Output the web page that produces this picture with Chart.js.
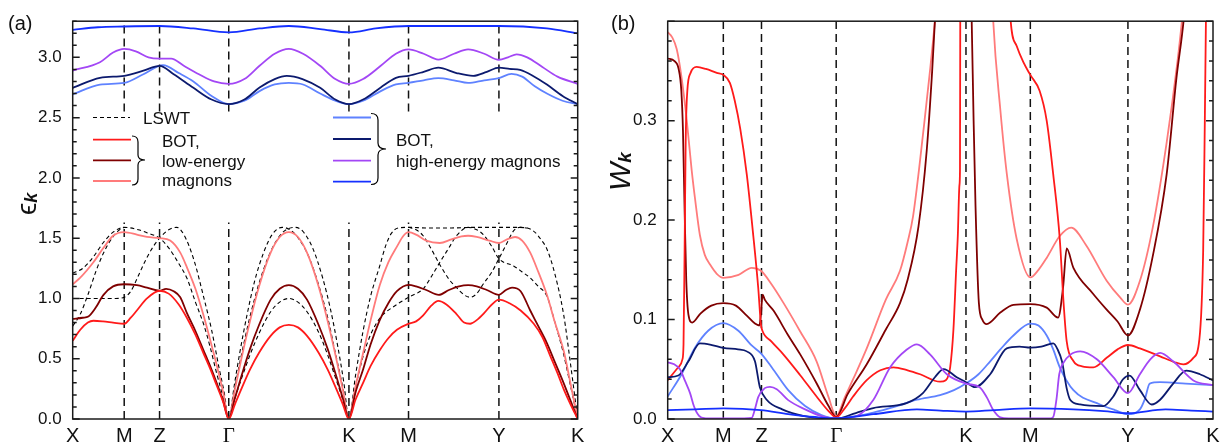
<!DOCTYPE html>
<html>
<head>
<meta charset="utf-8">
<script src="https://cdn.jsdelivr.net/npm/chart.js@4.4.0/dist/chart.umd.min.js"></script>
<style>
  body { margin: 0; background: #fff; }
  #wrap { position: relative; width: 1227px; height: 447px; background: #fff; }
  canvas { position: absolute; top: 0; }
  #overlay { position: absolute; left: 0; top: 0; pointer-events: none; }
</style>
</head>
<body>
<div id="wrap">
  <canvas id="chartA" width="600" height="447" style="left:0;width:600px;height:447px"></canvas>
  <canvas id="chartB" width="627" height="447" style="left:600px;width:627px;height:447px"></canvas>
  <svg id="overlay" width="1227" height="447" font-family="'Liberation Sans', Arial, sans-serif" fill="#111">
    <text x="8" y="29.5" font-size="20">(a)</text>
    <text x="611" y="29.5" font-size="20">(b)</text>

    <text transform="translate(36,215) rotate(-90)" font-size="28">ϵ<tspan font-size="18" font-weight="bold" font-style="italic" dy="1">k</tspan></text>
    <text transform="translate(630,191) rotate(-90)" font-size="30" font-style="italic">W<tspan font-size="19" font-weight="bold" font-style="italic" dy="1">k</tspan></text>

    <!-- legend, low-energy -->
    <line x1="93" y1="117.5" x2="130" y2="117.5" stroke="#000" stroke-width="1.2" stroke-dasharray="4 3"/>
    <text x="143" y="124" font-size="17">LSWT</text>
    <line x1="93" y1="139.7" x2="131" y2="139.7" stroke="#ff1a1a" stroke-width="1.8"/>
    <line x1="93" y1="160.3" x2="131" y2="160.3" stroke="#7f0000" stroke-width="1.8"/>
    <line x1="93" y1="181" x2="131" y2="181" stroke="#ff7b7b" stroke-width="1.8"/>
    <path d="M132,136 Q138,136 138,142 L138,155 Q138,160 145,160 Q138,160 138,165 L138,179 Q138,185 132,185" fill="none" stroke="#000" stroke-width="1.2"/>
    <text x="162" y="146.5" font-size="17">BOT,</text>
    <text x="162" y="166.5" font-size="17">low-energy</text>
    <text x="162" y="186" font-size="17">magnons</text>

    <!-- legend, high-energy -->
    <line x1="333" y1="117.5" x2="371" y2="117.5" stroke="#5f82ff" stroke-width="1.8"/>
    <line x1="333" y1="139" x2="371" y2="139" stroke="#0c1a6e" stroke-width="1.8"/>
    <line x1="333" y1="160.7" x2="371" y2="160.7" stroke="#a347f5" stroke-width="1.8"/>
    <line x1="333" y1="181.7" x2="371" y2="181.7" stroke="#1530ff" stroke-width="1.8"/>
    <path d="M371,113.5 Q378,113.5 378,120 L378,143 Q378,149 386,149 Q378,149 378,155 L378,178 Q378,184.5 371,184.5" fill="none" stroke="#000" stroke-width="1.2"/>
    <text x="396" y="145.7" font-size="17">BOT,</text>
    <text x="396" y="166.7" font-size="17">high-energy magnons</text>
  </svg>
</div>

<script>
// band structure (a) and weights (b) along X-M-Z-Γ-K-M-Y-K

const RED = '#ff1a1a';
const DARKRED = '#7f0000';
const PINK = '#ff7b7b';
const LIGHTBLUE = '#5f82ff';
const NAVY = '#0c1a6e';
const PURPLE = '#a347f5';
const BLUE = '#1530ff';

// ----------------------
// k-path and ticks
// ----------------------
const kPath = [0, 0.102, 0.172, 0.309, 0.547, 0.665, 0.844, 1.0];
const kLabels = ['X', 'M', 'Z', 'Γ', 'K', 'M', 'Y', 'K'];
const yTicksA = [0, 0.5, 1.0, 1.5, 2.0, 2.5, 3.0];
const yTicksB = [0, 0.1, 0.2, 0.3, 0.4];

// ----------------------
// (a) energies
// ----------------------
const lowRed = [[0,0.65],[0.015,0.74],[0.03,0.80],[0.041,0.815],[0.06,0.81],[0.08,0.80],[0.102,0.79],[0.115,0.84],[0.127,0.90],[0.147,1.00],[0.172,1.064],[0.19,1.04],[0.21,0.95],[0.226,0.84],[0.243,0.70],[0.259,0.545],[0.272,0.42],[0.285,0.28],[0.298,0.14],[0.309,0],
  [0.321,0.12],[0.333,0.24],[0.351,0.41],[0.369,0.55],[0.392,0.69],[0.41,0.76],[0.428,0.78],[0.446,0.76],[0.464,0.69],[0.487,0.55],[0.505,0.41],[0.523,0.24],[0.535,0.12],[0.547,0],
  [0.56,0.16],[0.575,0.30],[0.59,0.44],[0.608,0.57],[0.625,0.67],[0.642,0.74],[0.665,0.79],[0.68,0.81],[0.694,0.86],[0.71,0.94],[0.724,0.98],[0.74,0.95],[0.76,0.87],[0.775,0.80],[0.787,0.79],[0.80,0.82],[0.815,0.88],[0.83,0.95],[0.844,0.99],[0.865,0.96],[0.887,0.90],[0.913,0.79],[0.93,0.68],[0.946,0.52],[0.96,0.38],[0.972,0.25],[0.986,0.12],[1.0,0]];

const lowDark = [[0,0.83],[0.02,0.84],[0.031,0.85],[0.045,0.92],[0.061,1.03],[0.08,1.10],[0.102,1.118],[0.127,1.11],[0.147,1.09],[0.172,1.064],[0.185,1.08],[0.2,1.06],[0.213,1.01],[0.226,0.88],[0.243,0.73],[0.259,0.57],[0.272,0.44],[0.285,0.30],[0.298,0.15],[0.309,0],
  [0.321,0.17],[0.333,0.34],[0.351,0.58],[0.369,0.78],[0.392,0.99],[0.41,1.08],[0.428,1.11],[0.446,1.08],[0.464,0.99],[0.487,0.78],[0.505,0.58],[0.523,0.34],[0.535,0.17],[0.547,0],
  [0.56,0.22],[0.575,0.41],[0.59,0.62],[0.608,0.82],[0.625,0.96],[0.642,1.06],[0.665,1.113],[0.68,1.10],[0.70,1.07],[0.725,1.03],[0.745,1.07],[0.765,1.10],[0.783,1.11],[0.80,1.10],[0.82,1.07],[0.844,1.03],[0.858,1.07],[0.87,1.09],[0.887,1.06],[0.906,0.90],[0.922,0.77],[0.939,0.63],[0.955,0.47],[0.972,0.30],[0.986,0.15],[1.0,0]];

const lowPink = [[0,1.118],[0.0145,1.17],[0.041,1.30],[0.061,1.42],[0.08,1.52],[0.102,1.55],[0.127,1.53],[0.147,1.51],[0.172,1.50],[0.193,1.48],[0.213,1.38],[0.226,1.26],[0.243,1.08],[0.259,0.86],[0.272,0.66],[0.285,0.45],[0.298,0.22],[0.309,0],
  [0.321,0.24],[0.333,0.48],[0.351,0.81],[0.369,1.10],[0.392,1.38],[0.41,1.51],[0.428,1.55],[0.446,1.51],[0.464,1.38],[0.487,1.10],[0.505,0.81],[0.523,0.48],[0.535,0.24],[0.547,0],
  [0.56,0.27],[0.575,0.545],[0.59,0.82],[0.608,1.11],[0.625,1.30],[0.642,1.43],[0.655,1.52],[0.665,1.55],[0.68,1.53],[0.70,1.48],[0.727,1.46],[0.75,1.49],[0.77,1.515],[0.783,1.52],[0.80,1.51],[0.825,1.48],[0.844,1.46],[0.86,1.49],[0.876,1.51],[0.89,1.48],[0.906,1.38],[0.922,1.22],[0.939,1.03],[0.955,0.80],[0.972,0.57],[0.986,0.29],[1.0,0]];

const lswt1 = [[0,1.0],[0.03,1.0],[0.06,1.0],[0.085,1.0],[0.102,1.01],[0.115,1.06],[0.128,1.17],[0.14,1.28],[0.155,1.40],[0.172,1.50],[0.19,1.57],[0.206,1.59],[0.22,1.53],[0.24,1.32],[0.26,1.00],[0.275,0.74],[0.29,0.42],[0.30,0.22],[0.309,0],
  [0.321,0.26],[0.333,0.51],[0.35,0.83],[0.37,1.14],[0.39,1.37],[0.41,1.52],[0.425,1.575],[0.44,1.59],[0.455,1.56],[0.475,1.42],[0.495,1.17],[0.51,0.92],[0.525,0.60],[0.537,0.30],[0.547,0],
  [0.56,0.36],[0.575,0.73],[0.59,1.02],[0.608,1.27],[0.62,1.44],[0.631,1.54],[0.645,1.585],[0.665,1.59],[0.70,1.585],[0.75,1.585],[0.80,1.59],[0.844,1.59],[0.875,1.59],[0.90,1.585],[0.915,1.55],[0.927,1.49],[0.939,1.41],[0.955,1.20],[0.972,0.87],[0.986,0.45],[1.0,0]];

const lswt2 = [[0,1.21],[0.02,1.25],[0.04,1.34],[0.06,1.46],[0.08,1.55],[0.102,1.59],[0.13,1.57],[0.15,1.54],[0.172,1.50],[0.19,1.42],[0.21,1.29],[0.226,1.17],[0.243,0.97],[0.259,0.79],[0.272,0.60],[0.285,0.38],[0.298,0.18],[0.309,0],
  [0.32,0.28],[0.33,0.53],[0.345,0.86],[0.36,1.14],[0.378,1.38],[0.395,1.53],[0.415,1.59],[0.43,1.57],[0.445,1.51],[0.465,1.37],[0.485,1.14],[0.505,0.84],[0.52,0.55],[0.535,0.26],[0.547,0],
  [0.56,0.26],[0.575,0.52],[0.59,0.70],[0.609,0.84],[0.642,0.95],[0.665,1.01],[0.694,1.08],[0.71,1.18],[0.727,1.30],[0.745,1.42],[0.76,1.52],[0.783,1.59],[0.80,1.57],[0.813,1.53],[0.83,1.43],[0.844,1.33],[0.873,1.27],[0.89,1.22],[0.906,1.17],[0.922,1.10],[0.939,1.02],[0.955,0.80],[0.972,0.54],[0.986,0.27],[1.0,0]];

const lswt3 = [[0,0.77],[0.015,0.87],[0.03,1.03],[0.05,1.27],[0.07,1.45],[0.09,1.56],[0.102,1.59],[0.2,null],
  [0.309,0],[0.321,0.17],[0.333,0.32],[0.351,0.53],[0.369,0.71],[0.392,0.89],[0.41,0.97],[0.428,1.0],[0.446,0.97],[0.464,0.89],[0.487,0.72],[0.505,0.53],[0.523,0.31],[0.535,0.16],[0.547,0],[0.6,null],
  [0.665,1.59],[0.68,1.57],[0.694,1.52],[0.71,1.41],[0.727,1.28],[0.745,1.16],[0.76,1.09],[0.775,1.03],[0.787,1.01],[0.80,1.04],[0.813,1.12],[0.83,1.22],[0.844,1.33],[0.86,1.46],[0.873,1.56],[0.885,1.59],[0.9,1.585]];

const hiBlue = [[0,3.228],[0.05,3.25],[0.102,3.256],[0.172,3.26],[0.239,3.24],[0.309,3.207],[0.37,3.24],[0.428,3.26],[0.49,3.235],[0.547,3.207],[0.6,3.24],[0.665,3.26],[0.75,3.26],[0.844,3.26],[0.939,3.24],[1.0,3.20]];

const hiPurple = [[0,2.89],[0.054,2.96],[0.08,3.04],[0.102,3.07],[0.125,3.05],[0.15,3.0],[0.172,2.99],[0.195,2.99],[0.22,2.93],[0.25,2.86],[0.28,2.80],[0.309,2.78],[0.34,2.82],[0.37,2.93],[0.40,3.03],[0.428,3.07],[0.456,3.03],[0.49,2.93],[0.52,2.82],[0.547,2.78],[0.575,2.82],[0.61,2.93],[0.64,3.03],[0.665,3.066],[0.695,3.03],[0.724,2.982],[0.755,3.03],[0.783,3.066],[0.815,3.03],[0.844,2.98],[0.862,3.0],[0.879,3.025],[0.9,3.0],[0.93,2.92],[0.96,2.84],[1.0,2.78]];

const hiNavy = [[0,2.747],[0.054,2.83],[0.102,2.847],[0.14,2.89],[0.172,2.93],[0.2,2.86],[0.239,2.747],[0.275,2.65],[0.309,2.612],[0.34,2.65],[0.37,2.75],[0.40,2.82],[0.424,2.847],[0.455,2.82],[0.49,2.747],[0.52,2.65],[0.547,2.612],[0.575,2.65],[0.61,2.75],[0.64,2.83],[0.665,2.847],[0.695,2.88],[0.724,2.915],[0.76,2.87],[0.793,2.847],[0.82,2.88],[0.844,2.915],[0.865,2.905],[0.886,2.896],[0.91,2.85],[0.939,2.774],[0.97,2.68],[1.0,2.612]];

const hiLight = [[0,2.693],[0.054,2.774],[0.102,2.788],[0.14,2.86],[0.179,2.936],[0.21,2.87],[0.239,2.80],[0.275,2.68],[0.309,2.612],[0.34,2.64],[0.37,2.72],[0.40,2.775],[0.428,2.788],[0.456,2.775],[0.49,2.70],[0.52,2.64],[0.547,2.612],[0.575,2.64],[0.61,2.72],[0.64,2.775],[0.665,2.788],[0.695,2.81],[0.724,2.828],[0.755,2.81],[0.783,2.788],[0.815,2.81],[0.844,2.828],[0.869,2.863],[0.89,2.84],[0.915,2.76],[0.939,2.70],[0.97,2.64],[1.0,2.612]];

// ----------------------
// (b) weights
// ----------------------
const wRed = [[0,0.039],[0.0195,0.052],[0.027,0.06],[0.029,0.075],[0.031,0.17],[0.033,0.28],[0.036,0.33],[0.042,0.348],[0.053,0.354],[0.07,0.352],[0.09,0.348],[0.102,0.346],[0.114,0.338],[0.123,0.32],[0.133,0.292],[0.145,0.246],[0.157,0.184],[0.166,0.132],[0.171,0.095],[0.1735,0.089],[0.19,0.078],[0.212,0.065],[0.243,0.044],[0.273,0.0226],[0.295,0.008],[0.309,0.0016],
  [0.325,0.011],[0.34,0.0226],[0.365,0.039],[0.39,0.049],[0.414,0.052],[0.44,0.049],[0.463,0.045],[0.4994,0.0375],[0.51,0.039],[0.518,0.052],[0.524,0.09],[0.529,0.15],[0.532,0.184],[0.535,0.235],[0.536,0.25],[0.5365,0.4],[0.537,0.5],[0.58,null],
  [0.625,0.45],[0.629,0.40],[0.64,0.375],[0.652,0.359],[0.665,0.346],[0.682,0.33],[0.695,0.30],[0.707,0.246],[0.719,0.181],[0.726,0.1165],[0.7317,0.078],[0.744,0.0583],[0.76,0.053],[0.7806,0.052],[0.805,0.0615],[0.825,0.07],[0.844,0.0744],[0.866,0.071],[0.903,0.063],[0.93,0.057],[0.9456,0.055],[0.964,0.0615],[0.975,0.08],[0.982,0.17],[0.985,0.30],[0.988,0.45]];

const wDark = [[0,0.3625],[0.012,0.36],[0.02,0.352],[0.025,0.33],[0.028,0.29],[0.031,0.21],[0.034,0.14],[0.038,0.105],[0.045,0.097],[0.06,0.106],[0.08,0.114],[0.102,0.1165],[0.125,0.114],[0.145,0.104],[0.16,0.096],[0.168,0.094],[0.171,0.105],[0.174,0.125],[0.178,0.12],[0.194,0.109],[0.22,0.085],[0.243,0.065],[0.273,0.036],[0.295,0.013],[0.309,0.002],
  [0.33,0.025],[0.365,0.055],[0.4,0.09],[0.426,0.1165],[0.44,0.14],[0.46,0.194],[0.475,0.27],[0.485,0.35],[0.49,0.4],[0.495,0.46],[0.52,null],
  [0.553,0.5],[0.5575,0.4],[0.561,0.3],[0.5645,0.214],[0.5706,0.117],[0.577,0.1],[0.585,0.0955],[0.61,0.107],[0.634,0.1148],[0.665,0.1156],[0.695,0.112],[0.716,0.102],[0.725,0.132],[0.7317,0.1715],[0.744,0.152],[0.78,0.126],[0.805,0.110],[0.825,0.098],[0.844,0.084],[0.866,0.110],[0.89,0.165],[0.915,0.246],[0.933,0.343],[0.946,0.40],[0.955,0.46]];

const wPink = [[0,0.389],[0.008,0.384],[0.0165,0.372],[0.025,0.345],[0.035,0.30],[0.044,0.25],[0.05,0.222],[0.059,0.185],[0.068,0.165],[0.078,0.155],[0.09,0.146],[0.102,0.142],[0.13,0.145],[0.154,0.152],[0.171,0.149],[0.191,0.135],[0.212,0.117],[0.243,0.088],[0.273,0.058],[0.295,0.022],[0.309,0.003],
  [0.325,0.022],[0.34,0.04],[0.365,0.071],[0.4,0.12],[0.426,0.149],[0.44,0.178],[0.45,0.204],[0.47,0.295],[0.48,0.345],[0.49,0.40],[0.50,0.47],[0.55,null],
  [0.592,0.47],[0.597,0.40],[0.61,0.311],[0.622,0.246],[0.64,0.181],[0.665,0.1424],[0.68,0.15],[0.695,0.162],[0.719,0.184],[0.74,0.1925],[0.767,0.175],[0.805,0.139],[0.83,0.122],[0.844,0.115],[0.866,0.139],[0.89,0.194],[0.915,0.278],[0.935,0.36],[0.943,0.40],[0.95,0.44]];

const wLight = [[0,0.0227],[0.0257,0.0453],[0.0495,0.0712],[0.0747,0.089],[0.102,0.0964],[0.129,0.089],[0.154,0.074],[0.171,0.066],[0.191,0.0518],[0.221,0.029],[0.252,0.013],[0.282,0.004],[0.309,0.0005],[0.345,0.003],[0.377,0.0065],[0.42,0.013],[0.457,0.0194],[0.4994,0.024],[0.525,0.029],[0.547,0.0356],[0.57,0.045],[0.5914,0.058],[0.61,0.07],[0.634,0.084],[0.665,0.096],[0.68,0.094],[0.695,0.084],[0.707,0.07],[0.719,0.052],[0.744,0.029],[0.7928,0.0146],[0.82,0.009],[0.844,0.0049],[0.866,0.0097],[0.875,0.02],[0.884,0.0356],[0.903,0.037],[0.95,0.0356],[1.0,0.034]];

const wNavy = [[0,0.042],[0.0195,0.0437],[0.038,0.058],[0.059,0.076],[0.081,0.0744],[0.102,0.0715],[0.129,0.07],[0.145,0.068],[0.16,0.058],[0.169,0.032],[0.1815,0.0194],[0.21,0.0097],[0.25,0.003],[0.309,0.0005],[0.345,0.006],[0.377,0.011],[0.438,0.016],[0.468,0.026],[0.49,0.042],[0.506,0.0502],[0.53,0.042],[0.547,0.037],[0.5635,0.032],[0.5914,0.045],[0.6217,0.071],[0.645,0.0728],[0.665,0.0718],[0.685,0.0728],[0.707,0.076],[0.715,0.07],[0.723,0.058],[0.732,0.03],[0.738,0.0194],[0.7562,0.0146],[0.799,0.013],[0.8172,0.0227],[0.835,0.04],[0.847,0.0437],[0.866,0.029],[0.8875,0.0146],[0.903,0.0194],[0.927,0.0356],[0.951,0.0486],[0.976,0.045],[1.0,0.0388]];

const wPurple = [[0,0.057],[0.012,0.055],[0.0225,0.050],[0.032,0.038],[0.041,0.026],[0.048,0.013],[0.053,0.0068],[0.062,0.0015],[0.08,0.0005],[0.14,0.0005],[0.154,0.001],[0.16,0.01],[0.166,0.022],[0.178,0.031],[0.1876,0.0324],[0.2,0.03],[0.221,0.019],[0.252,0.0097],[0.282,0.003],[0.309,0.0005],[0.347,0.003],[0.377,0.019],[0.408,0.052],[0.438,0.0696],[0.457,0.075],[0.481,0.065],[0.512,0.045],[0.547,0.0356],[0.572,0.032],[0.585,0.022],[0.597,0.009],[0.61,0.0016],[0.625,0.0005],[0.70,0.0005],[0.707,0.002],[0.713,0.02],[0.718,0.045],[0.725,0.056],[0.738,0.0645],[0.7565,0.068],[0.787,0.06],[0.8172,0.042],[0.844,0.026],[0.866,0.045],[0.885,0.06],[0.903,0.0664],[0.927,0.058],[0.964,0.0388],[1.0,0.034]];

const wBlue = [[0,0.009],[0.05,0.0097],[0.102,0.0107],[0.171,0.009],[0.221,0.005],[0.27,0.002],[0.309,0.0006],[0.377,0.0048],[0.457,0.0097],[0.5,0.0085],[0.547,0.0075],[0.6,0.009],[0.665,0.0107],[0.744,0.0097],[0.8,0.008],[0.844,0.0058],[0.913,0.0097],[0.96,0.0085],[1.0,0.0075]];

// ----------------------
// helpers
// ----------------------
function pts(arr) {
    return arr.map(([x, y]) => ({ x, y }));
}

// dashed verticals at the inner symmetry points, optionally broken by the legend
function symLines(top, gapLo, gapHi) {
    const out = [];
    kPath.slice(1, -1).forEach(x => {
        if (gapLo != null) {
            out.push({ x, y: 0 }, { x, y: gapLo }, { x, y: null }, { x, y: gapHi }, { x, y: top }, { x, y: null });
        } else {
            out.push({ x, y: 0 }, { x, y: top }, { x, y: null });
        }
    });
    return out;
}

function curve(data, color, width, dash) {
    return {
        data: pts(data),
        borderColor: color,
        borderWidth: width || 1.8,
        borderDash: dash || [],
        borderJoinStyle: 'round',
        pointRadius: 0,
        cubicInterpolationMode: 'monotone',
        spanGaps: false,
        fill: false
    };
}

function vLines(data) {
    return {
        data,
        borderColor: '#111',
        borderWidth: 1.5,
        borderDash: [8, 5],
        pointRadius: 0,
        tension: 0,
        spanGaps: false,
        fill: false
    };
}

// frame plus inward major/minor ticks on both sides
const frameTicks = {
    id: 'frameTicks',
    afterDatasetsDraw(chart, args, opts) {
        const { ctx, chartArea: a } = chart;
        const y = chart.scales.y;
        ctx.save();
        ctx.setLineDash([]);
        ctx.strokeStyle = '#1a1a1a';
        ctx.lineWidth = 1.5;
        ctx.strokeRect(a.left, a.top, a.right - a.left, a.bottom - a.top);
        ctx.beginPath();
        const n = Math.round((opts.max - opts.min) / opts.minor);
        for (let i = 0; i <= n; i++) {
            const py = y.getPixelForValue(opts.min + i * opts.minor);
            const len = i % opts.every === 0 ? 7 : 4;
            ctx.moveTo(a.left, py); ctx.lineTo(a.left + len, py);
            ctx.moveTo(a.right, py); ctx.lineTo(a.right - len, py);
        }
        ctx.stroke();
        ctx.restore();
    }
};

function xScale() {
    return {
        type: 'linear',
        min: 0,
        max: 1,
        afterBuildTicks: axis => { axis.ticks = kPath.map(v => ({ value: v })); },
        afterFit: axis => { axis.height = 28; },
        grid: { display: false, drawTicks: false },
        border: { display: false },
        ticks: {
            autoSkip: false,
            maxRotation: 0,
            padding: 5,
            color: '#111',
            font: c => (c.index === 3
                ? { family: "'Liberation Serif', 'Times New Roman', serif", size: 21 }
                : { family: "'Liberation Sans', Arial, sans-serif", size: 20 }),
            callback: (v, i) => kLabels[i]
        }
    };
}

function yScale(max, ticks, width, labelFn) {
    return {
        type: 'linear',
        min: 0,
        max,
        afterBuildTicks: axis => { axis.ticks = ticks.map(v => ({ value: v })); },
        afterFit: axis => { axis.width = width; },
        grid: { display: false, drawTicks: false },
        border: { display: false },
        ticks: {
            padding: 11,
            color: '#111',
            font: { family: "'Liberation Sans', Arial, sans-serif", size: 17 },
            callback: labelFn
        }
    };
}

function baseOptions(pad, scales, ticksCfg) {
    return {
        responsive: false,
        animation: false,
        events: [],
        layout: { padding: pad },
        scales,
        plugins: {
            legend: { display: false },
            tooltip: { enabled: false },
            frameTicks: ticksCfg
        }
    };
}

// ----------------------
// Charts
// ----------------------
function renderPanelA() {
    const datasets = [
        curve(hiBlue, BLUE),
        curve(hiPurple, PURPLE),
        curve(hiNavy, NAVY),
        curve(hiLight, LIGHTBLUE),
        curve(lowRed, RED),
        curve(lowDark, DARKRED),
        curve(lowPink, PINK),
        curve(lswt1, '#000', 1.1, [4, 3]),
        curve(lswt2, '#000', 1.1, [4, 3]),
        curve(lswt3, '#000', 1.1, [4, 3]),
        vLines(symLines(3.3, 1.63, 2.55))
    ];
    new Chart(document.getElementById('chartA'), {
        type: 'line',
        data: { datasets },
        options: baseOptions(
            { left: 0, right: 22.3, top: 12, bottom: 0 },
            { x: xScale(), y: yScale(3.3, yTicksA, 72.7, v => v.toFixed(1)) },
            { min: 0, max: 3.3, minor: 0.1, every: 5 }
        ),
        plugins: [frameTicks]
    });
}

function renderPanelB() {
    const datasets = [
        curve(wBlue, BLUE),
        curve(wPurple, PURPLE),
        curve(wNavy, NAVY),
        curve(wLight, LIGHTBLUE),
        curve(wRed, RED),
        curve(wDark, DARKRED),
        curve(wPink, PINK),
        vLines(symLines(0.4))
    ];
    new Chart(document.getElementById('chartB'), {
        type: 'line',
        data: { datasets },
        options: baseOptions(
            { left: 0, right: 14, top: 8.3, bottom: 0 },
            { x: xScale(), y: yScale(0.4, yTicksB, 67.7, v => (v > 0.35 ? '' : v.toFixed(1))) },
            { min: 0, max: 0.4, minor: 0.02, every: 5 }
        ),
        plugins: [frameTicks]
    });
}

renderPanelA();
renderPanelB();
</script>
</body>
</html>
